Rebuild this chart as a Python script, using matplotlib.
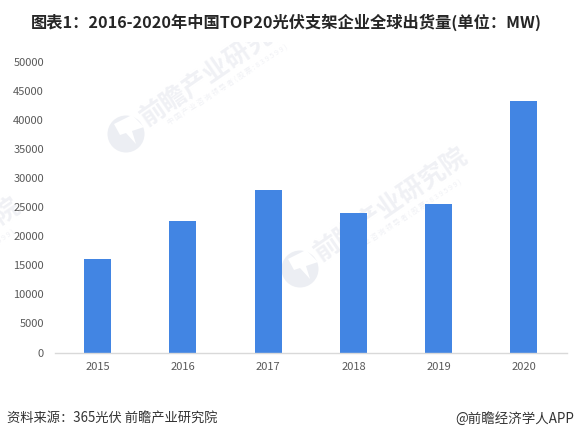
import matplotlib
matplotlib.use("Agg")
import matplotlib.pyplot as plt
import matplotlib.patches as mpatches

plt.rcParams["font.family"] = ["Noto Sans CJK SC", "DejaVu Sans"]

W, H = 574, 440

years = ["2015", "2016", "2017", "2018", "2019", "2020"]
shipments = [16150, 22650, 27850, 24050, 25600, 43150]
y_ticks = [0, 5000, 10000, 15000, 20000, 25000, 30000, 35000, 40000, 45000, 50000]

title = "图表1：2016-2020年中国TOP20光伏支架企业全球出货量(单位：MW)"
source = "资料来源：365光伏 前瞻产业研究院"
brand = "@前瞻经济学人APP"
wm_name = "前瞻产业研究院"
wm_sub = "中国产业咨询领导者(股票:839599)"

WM_COLOR = "#eceef3"
WM_TEXT_COLOR = "#f0f1f5"


def draw_watermark(ax, dx, dy):
    """Logo plus rotated text, offset from the middle watermark in pixels."""
    ax.add_patch(mpatches.Circle((300 + dx, 269 + dy), 18.5, color=WM_COLOR, lw=0))
    ax.add_patch(mpatches.Polygon(
        [(288 + dx, 259 + dy), (306 + dx, 250 + dy), (318 + dx, 262 + dy),
         (306 + dx, 266 + dy), (310 + dx, 279 + dy), (300 + dx, 268 + dy),
         (294 + dx, 270 + dy)],
        color="white", lw=0))
    ax.text(391 + dx, 205 + dy, wm_name, rotation=34.5, rotation_mode="anchor",
            ha="center", va="center", fontsize=18.5, fontweight="bold", color=WM_TEXT_COLOR)
    ax.text(401 + dx, 220 + dy, " ".join(wm_sub), rotation=33, rotation_mode="anchor",
            ha="center", va="center", fontsize=5.2, color=WM_TEXT_COLOR)


fig = plt.figure(figsize=(W / 100, H / 100), dpi=100, facecolor="white")

# Pixel-coordinate layer behind the chart for the watermarks
bg = fig.add_axes([0, 0, 1, 1], zorder=0)
bg.set_xlim(0, W)
bg.set_ylim(H, 0)
bg.axis("off")
draw_watermark(bg, 0, 0)
draw_watermark(bg, -174, -135)
draw_watermark(bg, -447, 50)
bg.add_patch(mpatches.Rectangle((0, 0), W, 42, color="white", lw=0, zorder=5))

ax = fig.add_axes([55 / W, 1 - 352.5 / H, 511.5 / W, 291 / H], zorder=1)
ax.patch.set_alpha(0)
ax.bar(range(len(years)), shipments, width=0.317, color="#4285E3")
ax.set_xlim(-0.5, 5.5)
ax.set_ylim(0, 50000)
ax.set_xticks(range(len(years)))
ax.set_xticklabels(years)
ax.set_yticks(y_ticks)
ax.tick_params(axis="both", length=0, labelsize=8, labelcolor="#595959")
ax.tick_params(axis="x", pad=7)
ax.tick_params(axis="y", pad=8)
for side in ["top", "right", "left"]:
    ax.spines[side].set_visible(False)
ax.spines["bottom"].set_color("#d9d9d9")
ax.spines["bottom"].set_linewidth(1)

fig.text(286.5 / W, 1 - 22.5 / H, title, ha="center", va="center",
         fontsize=11.7, fontweight="bold", color="#262626")
fig.text(7 / W, 1 - 419 / H, source, ha="left", va="center", fontsize=9.55, color="#333333")
fig.text(574 / W, 1 - 419 / H, brand, ha="right", va="center", fontsize=9.7, color="#333333")

fig.savefig("out.png", dpi=100)
